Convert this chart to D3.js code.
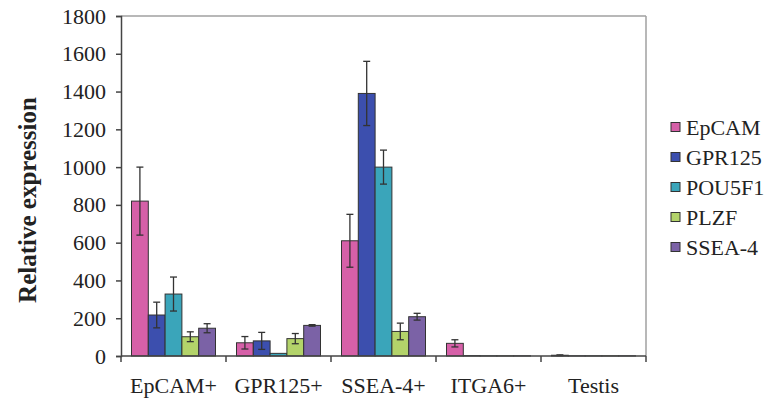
<!DOCTYPE html>
<html>
<head>
<meta charset="utf-8">
<script src="https://cdn.jsdelivr.net/npm/d3@7"></script>
<style>
  body { margin: 0; background: #fff; }
  svg text { font-family: 'Liberation Serif', 'Times New Roman', serif; fill: #222; }
</style>
</head>
<body>
<svg id="chart" width="769" height="403"></svg>
<script>
const groups = ["EpCAM+", "GPR125+", "SSEA-4+", "ITGA6+", "Testis"];
const markers = ["EpCAM", "GPR125", "POU5F1", "PLZF", "SSEA-4"];
const colors = ["#d660a8", "#3c4fae", "#3aa5ba", "#b3d36a", "#7b62a6"];
const yTicks = [0, 200, 400, 600, 800, 1000, 1200, 1400, 1600, 1800];

// mean per marker, one entry per group
const EpCAM = [820, 70, 610, 67, 4];
const GPR125 = [217, 80, 1390, 2, 1];
const POU5F1 = [328, 14, 1000, 1, 1];
const PLZF = [102, 92, 130, 1, 1];
const SSEA4 = [147, 162, 208, 1, 1];
// error bar half-height
const EpCAMErr = [180, 33, 140, 19, 2];
const GPR125Err = [68, 45, 170, 0, 0];
const POU5F1Err = [90, 0, 90, 0, 0];
const PLZFErr = [26, 27, 44, 0, 0];
const SSEA4Err = [24, 4, 18, 0, 0];

const values = [EpCAM, GPR125, POU5F1, PLZF, SSEA4];
const errors = [EpCAMErr, GPR125Err, POU5F1Err, PLZFErr, SSEA4Err];

const serif = "'Liberation Serif', 'Times New Roman', serif";
const margin = { top: 16, left: 121, right: 123, bottom: 47 };
const width = 769 - margin.left - margin.right;
const height = 403 - margin.top - margin.bottom;

const svg = d3.select("#chart")
  .append("g")
  .attr("transform", `translate(${margin.left},${margin.top})`);

const x = d3.scaleBand().domain(groups).range([0, width]).paddingInner(0.2).paddingOuter(0.1);
const xBand = d3.scaleBand().domain(groups).range([0, width]);
const xSub = d3.scaleBand().domain(markers).range([0, x.bandwidth()]);
const y = d3.scaleLinear().domain([0, 1800]).range([height, 0]);

// gray frame top/right
svg.append("line").attr("x1", 0).attr("x2", width).attr("y1", 0).attr("y2", 0)
  .attr("stroke", "#a0a0a0").attr("stroke-width", 1.5);
svg.append("line").attr("x1", width).attr("x2", width).attr("y1", 0).attr("y2", height)
  .attr("stroke", "#a0a0a0").attr("stroke-width", 1.5);

// bars
const rows = [];
groups.forEach((g, gi) => markers.forEach((m, mi) => {
  rows.push({ g, m, mi, v: values[mi][gi], e: errors[mi][gi] });
}));

svg.append("g").selectAll("rect").data(rows).join("rect")
  .attr("x", d => x(d.g) + xSub(d.m))
  .attr("y", d => y(d.v))
  .attr("width", xSub.bandwidth())
  .attr("height", d => height - y(d.v))
  .attr("fill", d => colors[d.mi])
  .attr("stroke", "#333")
  .attr("stroke-width", 1);

// error bars
const eb = svg.append("g").attr("stroke", "#333").attr("stroke-width", 1.3)
  .selectAll("g").data(rows.filter(d => d.e > 0)).join("g")
  .attr("transform", d => `translate(${x(d.g) + xSub(d.m) + xSub.bandwidth() / 2},0)`);
eb.append("line").attr("y1", d => y(d.v + d.e)).attr("y2", d => y(d.v - d.e));
eb.append("line").attr("x1", -3.5).attr("x2", 3.5).attr("y1", d => y(d.v + d.e)).attr("y2", d => y(d.v + d.e));
eb.append("line").attr("x1", -3.5).attr("x2", 3.5).attr("y1", d => y(d.v - d.e)).attr("y2", d => y(d.v - d.e));

// y axis
const yAxis = svg.append("g")
  .call(d3.axisLeft(y).tickValues(yTicks).tickFormat(d3.format("d")).tickSize(5).tickPadding(10));
yAxis.attr("font-family", serif);
yAxis.select(".domain").attr("stroke", "#444").attr("stroke-width", 1.5);
yAxis.selectAll(".tick line").attr("stroke", "#444").attr("stroke-width", 1.5);
yAxis.selectAll("text").attr("font-size", 22).attr("fill", "#222");

// x axis: ticks between categories
const xAxis = svg.append("g").attr("transform", `translate(0,${height})`);
xAxis.append("line").attr("x1", 0).attr("x2", width).attr("stroke", "#444").attr("stroke-width", 1.5);
xAxis.selectAll(".sep").data(d3.range(groups.length + 1)).join("line")
  .attr("x1", i => i * xBand.bandwidth()).attr("x2", i => i * xBand.bandwidth())
  .attr("y1", 0).attr("y2", 6).attr("stroke", "#444").attr("stroke-width", 1.5);
xAxis.selectAll(".lbl").data(groups).join("text")
  .attr("x", d => xBand(d) + xBand.bandwidth() / 2)
  .attr("y", 37)
  .attr("text-anchor", "middle")
  .attr("font-family", serif)
  .attr("font-size", 22)
  .text(d => d);

// axis title
svg.append("text")
  .attr("transform", `translate(${-85},${184}) rotate(-90)`)
  .attr("text-anchor", "middle")
  .attr("font-family", serif)
  .attr("font-size", 25)
  .attr("font-weight", "bold")
  .text("Relative expression");

// legend
const legend = svg.append("g").attr("transform", `translate(${width + 25},${111})`)
  .selectAll("g").data(markers).join("g")
  .attr("transform", (d, i) => `translate(0,${i * 30})`);
legend.append("rect").attr("x", 0).attr("y", -4.5).attr("width", 9).attr("height", 9)
  .attr("fill", (d, i) => colors[i]).attr("stroke", "#333").attr("stroke-width", 1);
legend.append("text").attr("x", 15).attr("y", 8).attr("font-family", serif)
  .attr("font-size", 22).text(d => d);
</script>
</body>
</html>
